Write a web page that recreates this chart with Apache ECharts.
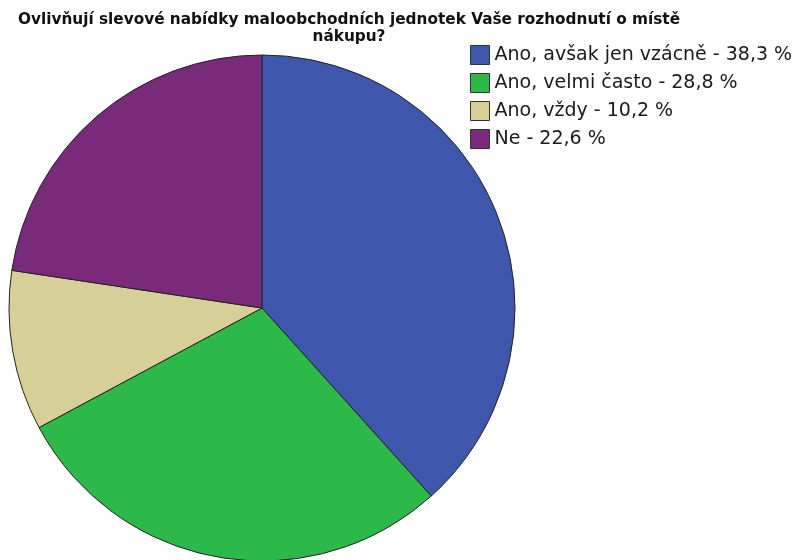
<!DOCTYPE html>
<html><head><meta charset="utf-8">
<script src="https://cdn.jsdelivr.net/npm/echarts@6/dist/echarts.min.js"></script>
<style>html,body{margin:0;padding:0;background:#fff}#c{width:794px;height:560px}</style>
</head><body><div id="c"></div>
<script>
const titleText = "Ovlivňují slevové nabídky maloobchodních jednotek Vaše rozhodnutí o místě\nnákupu?";
const categories = ["Ano, avšak jen vzácně", "Ano, velmi často", "Ano, vždy", "Ne"];
const values = [38.3, 28.8, 10.2, 22.6];
const colors = ["#3e57ad", "#2db84a", "#d7cf98", "#7a2a7b"];

const chart = echarts.init(document.getElementById('c'), null, {renderer: 'canvas'});
const data = categories.map((c, i) => ({name: c, value: values[i], itemStyle: {color: colors[i]}}));
const fmt = v => v.toFixed(1).replace('.', ',') + ' %';
chart.setOption({
  animation: false,
  title: {
    text: titleText,
    left: 344, top: 7, textAlign: 'center',
    textStyle: {fontFamily: 'DejaVu Sans', fontWeight: 'bold', fontSize: 15.3, lineHeight: 17, color: '#111'}
  },
  legend: {
    orient: 'vertical', left: 470, top: 45, padding: 0,
    itemWidth: 19, itemHeight: 19, itemGap: 8,
    icon: 'rect',
    itemStyle: {borderColor: '#333', borderWidth: 1},
    textStyle: {fontFamily: 'DejaVu Sans', fontSize: 19, color: '#1a1a1a'},
    formatter: name => name + ' - ' + fmt(values[categories.indexOf(name)])
  },
  series: [{
    type: 'pie',
    center: [262, 308],
    radius: 253,
    startAngle: 90,
    clockwise: true,
    label: {show: false},
    labelLine: {show: false},
    itemStyle: {borderColor: '#222', borderWidth: 1},
    emphasis: {disabled: true},
    data: data
  }]
});
</script></body></html>
